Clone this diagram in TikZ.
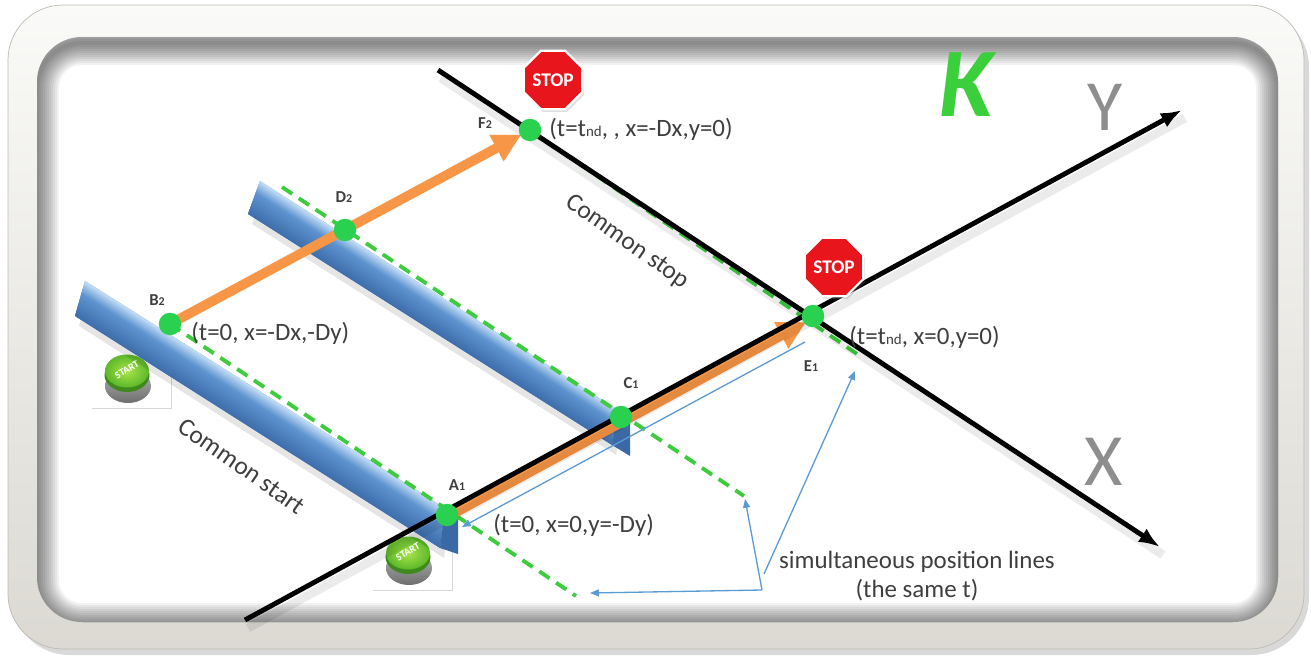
\documentclass[tikz,border=0pt]{standalone}
\usepackage{fontspec}
\setmainfont{Carlito}
\usetikzlibrary{arrows.meta,calc,shapes.geometric,shadows}
\definecolor{framelight}{HTML}{FAFAF8}
\definecolor{framedark}{HTML}{DBD9D2}
\definecolor{frameedge}{HTML}{BDBBB4}
\definecolor{simgreen}{HTML}{3DCC3D}
\definecolor{dotgreen}{HTML}{2AD150}
\definecolor{arrorange}{HTML}{F79646}
\definecolor{thinblue}{HTML}{5B9BD5}
\definecolor{txtgray}{HTML}{3F3F3F}
\definecolor{stopred}{HTML}{E8151C}
\definecolor{kgreen}{HTML}{3BCF3B}
\definecolor{axgray}{HTML}{8E8E8E}
\definecolor{barlight}{HTML}{C2DDF5}
\definecolor{barmid}{HTML}{5D93CF}
\definecolor{bardark}{HTML}{3F6FAD}
\definecolor{barend}{HTML}{3A69A6}
\definecolor{btngreenL}{HTML}{A8E44A}
\definecolor{btngreen}{HTML}{5DB82A}
\definecolor{btngreenD}{HTML}{3E8A1C}
\definecolor{btngray}{HTML}{B5B5B5}
\definecolor{btngrayD}{HTML}{6E6E6E}
\newcommand{\drawbar}[4]{%
  \fill[black,opacity=0.10] ($(#1)+(4,10)$) -- ($(#2)+(4,10)$) -- ($(#3)+(4,10)$) -- ($(#4)+(4,10)$) -- cycle;
  \fill[barmid] (#1) -- (#2) -- (#3) -- (#4) -- cycle;
  \foreach \i in {0,...,9} {
    \pgfmathsetmacro\ba{0.35*\i/10}\pgfmathsetmacro\bb{0.35*(\i+1)/10+0.04}
    \pgfmathsetmacro\bc{100-10*\i}
    \fill[barlight!\bc!barmid] ($(#1)!\ba!(#4)$) -- ($(#2)!\ba!(#3)$) -- ($(#2)!\bb!(#3)$) -- ($(#1)!\bb!(#4)$) -- cycle;
  }
  \foreach \i in {0,...,12} {
    \pgfmathsetmacro\ba{0.35+0.65*\i/13}\pgfmathsetmacro\bb{min(1,0.35+0.65*(\i+1)/13+0.04)}
    \pgfmathsetmacro\bc{100-100*\i/12}
    \fill[barmid!\bc!bardark] ($(#1)!\ba!(#4)$) -- ($(#2)!\ba!(#3)$) -- ($(#2)!\bb!(#3)$) -- ($(#1)!\bb!(#4)$) -- cycle;
  }
}
\newcommand{\drawstartbtn}[1]{%
  \shade[top color=btngray, bottom color=btngrayD] ([shift={(-3,8)}]#1.center) ellipse [x radius=0.46cm, y radius=0.34cm];
  \fill[btngreenD] ([shift={(-4,-3)}]#1.center) ellipse [x radius=0.45cm, y radius=0.34cm];
  \shade[inner color=btngreenL, outer color=btngreen] ([shift={(-4,-7)}]#1.center) ellipse [x radius=0.44cm, y radius=0.33cm];
  \node[rotate=30, text=white, inner sep=0pt, font=\bfseries\fontsize{5.8}{6}\selectfont] (#1txt) at ([shift={(-4,-8)}]#1.center) {START};
}
\begin{document}
\begin{tikzpicture}[x=0.02cm,y=-0.02cm,
  axis/.style={line width=2.8pt, black, -{Latex[length=12pt,width=9pt]}},
  axshadow/.style={line width=5pt, black, opacity=0.08},
  simline/.style={line width=2.2pt, simgreen, dash pattern=on 7pt off 4.5pt},
  orangearrow/.style={line width=5.5pt, arrorange, -{Triangle[length=16pt,width=16pt]}},
  bluethin/.style={line width=0.75pt, thinblue, -{Triangle[length=5pt,width=4pt]}},
  dot/.style={circle, fill=dotgreen, minimum size=0.45cm, inner sep=0pt},
  stopsign/.style={regular polygon, regular polygon sides=8, minimum size=1.1cm, inner sep=0pt, fill=stopred, draw=white, line width=1.2pt, text=white, font=\bfseries\fontsize{11}{11}\selectfont, drop shadow={opacity=0.25,shadow xshift=1pt,shadow yshift=-1.5pt}},
  startbox/.style={rectangle, fill=white, minimum width=1.6cm, minimum height=1.2cm, inner sep=0pt, drop shadow={opacity=0.3,shadow xshift=0.6pt,shadow yshift=-0.8pt}},
  coordlabel/.style={font=\fontsize{14.2}{16}\selectfont, text=txtgray, inner sep=0pt, anchor=west},
  ptlabel/.style={font=\bfseries\fontsize{9.5}{10}\selectfont, text=txtgray, inner sep=0pt},
  commonlabel/.style={font=\fontsize{14.5}{16}\selectfont, text=txtgray, inner sep=0pt, rotate=-35}
]
\useasboundingbox (0,0) rectangle (1311,656);
% frame
\fill[black,opacity=0.15,rounded corners=1.15cm] (12,10) rectangle (1309,655);
\shadedraw[top color=framelight, bottom color=framedark, draw=frameedge, line width=0.4pt, rounded corners=1.1cm] (8,5) rectangle (1304,649);
\begin{scope}
  \clip[rounded corners=0.9cm] (37,37) rectangle (1278,622);
  \fill[white] (37,37) rectangle (1278,622);
  \foreach \w in {4,8,...,44} {
    \pgfmathsetmacro\lw{\w*0.567}
    \draw[black,opacity=0.05,line width=\lw pt,rounded corners=0.9cm] (37,43) rectangle (1278,625);
  }
\end{scope}
% start buttons
\node[startbox] (start1) at (131,378) {};
\drawstartbtn{start1}
\node[startbox] (start2) at (412,560) {};
\drawstartbtn{start2}
% bars
\drawbar{85,281}{445,508}{440,548}{75,316}
\fill[barend] (445,508) -- (458,517) -- (458,554) -- (440,548) -- cycle;
\drawbar{260,181}{618,410}{612,445}{248,214}
\fill[barend] (618,410) -- (630,419) -- (630,456) -- (612,445) -- cycle;
% coordinates
\coordinate (B2) at (170,324);
\coordinate (D2) at (345,230);
\coordinate (F2) at (530,130);
\coordinate (A1) at (447,515);
\coordinate (C1) at (621,417);
\coordinate (E1) at (813,316);
\coordinate (Ys) at (245,620);
\coordinate (Ye) at (1182,110);
\coordinate (Xs) at (438,70);
\coordinate (Xe) at (1160,547);
\coordinate (s1b) at (576,596);
\coordinate (s2a) at (282,187);
\coordinate (s2b) at (744,496);
\coordinate (s3b) at (860,356);
\coordinate (bl1a) at (805,342);
\coordinate (cj) at (762,590);
\coordinate (cj2) at (764,574);
% simultaneous position lines
\draw[simline] (B2) -- (s1b);
\draw[simline] (s2a) -- (s2b);
\draw[simline] (F2) -- (s3b);
% orange paths
\draw[orangearrow, shorten >=5.7pt] (B2) -- (F2);
\draw[orangearrow] ([shift={(2,1)}]A1) -- ([shift={(-7,6)}]E1);
% axes (soft shadow, then line)
\draw[axshadow] ([shift={(3,8)}]Ys) -- ([shift={(3,8)}]Ye);
\draw[axshadow] ([shift={(3,8)}]Xs) -- ([shift={(3,8)}]Xe);
\draw[axis] (Ys) -- (Ye);
\draw[axis] (Xs) -- (Xe);
% thin blue lines
\draw[bluethin] (bl1a) -- ([shift={(15,12)}]A1);
\draw[bluethin] (cj) -- ([shift={(14,-3)}]s1b);
\draw[bluethin] (cj) -- ([shift={(1,3)}]s2b);
\draw[bluethin] (cj2) -- ([shift={(-5,15)}]s3b);
% dots
\node[dot] (B2dot) at (B2) {};
\node[dot] (D2dot) at (D2) {};
\node[dot] (F2dot) at (F2) {};
\node[dot] (A1dot) at (A1) {};
\node[dot] (C1dot) at (C1) {};
\node[dot] (E1dot) at (E1) {};
% point labels
\node[ptlabel] (B2lbl) at (157,300) {B{\fontsize{6.8}{7}\selectfont 2}};
\node[ptlabel] (D2lbl) at (344,197) {D{\fontsize{6.8}{7}\selectfont 2}};
\node[ptlabel] (F2lbl) at (485,123) {F{\fontsize{6.8}{7}\selectfont 2}};
\node[ptlabel] (A1lbl) at (457,485) {A{\fontsize{6.8}{7}\selectfont 1}};
\node[ptlabel] (C1lbl) at (631,383) {C{\fontsize{6.8}{7}\selectfont 1}};
\node[ptlabel] (E1lbl) at (811,366) {E{\fontsize{6.8}{7}\selectfont 1}};
% coordinate labels
\node[coordlabel] (Btxt) at (191,333) {(t=0, x=-Dx,-Dy)};
\node[coordlabel] (Atxt) at (493,525) {(t=0, x=0,y=-Dy)};
\node[coordlabel] (Etxt) at (849,337) {(t=t{\fontsize{8.5}{9}\selectfont nd}, x=0,y=0)};
\node[coordlabel] (Ftxt) at (549,129) {(t=t{\fontsize{8.5}{9}\selectfont nd}, , x=-Dx,y=0)};
% common labels
\node[commonlabel] (cstart) at (242,466) {Common start};
\node[commonlabel] (cstop) at (627,242) {Common stop};
% stop signs
\node[stopsign] (stopF) at (553,80) {STOP};
\node[stopsign] (stopE) at (834,267) {STOP};
% frame letters
\node[font=\bfseries\itshape\fontsize{56}{56}\selectfont, text=kgreen, inner sep=0pt] (Klbl) at (966,85) {K};
\node[font=\fontsize{41}{41}\selectfont, text=axgray, inner sep=0pt] (Ylbl) at (1105,107) {Y};
\node[font=\fontsize{42}{42}\selectfont, text=axgray, inner sep=0pt] (Xlbl) at (1104,462) {X};
% callout text
\node[font=\fontsize{14.2}{16.5}\selectfont, align=center, text=txtgray, inner sep=0pt] (simtxt) at (917,576) {simultaneous position lines\\(the same t)};
\end{tikzpicture}
\end{document}
